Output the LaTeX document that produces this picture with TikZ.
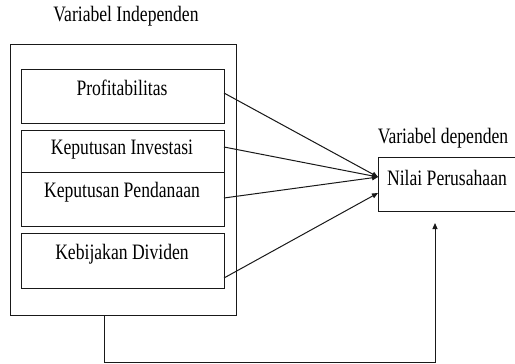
\documentclass[tikz,border=0pt]{standalone}
\usepackage{fontspec}
\setmainfont{Liberation Serif}[FakeStretch=0.8]
\usetikzlibrary{arrows.meta}
\begin{document}
\begin{tikzpicture}[x=1pt,y=-1pt,
  box/.style={draw=black!90, line width=1pt, inner sep=0pt, outer sep=0pt},
  lbl/.style={anchor=base, inner sep=0pt, font=\fontsize{22}{26}\selectfont, text=black},
  link/.style={draw=black!90, line width=1pt},
  arr/.style={link, -{Triangle[length=6pt,width=5pt]}}]
\clip (0,0) rectangle (515,364);
% outer box
\node[box, minimum width=226pt, minimum height=271pt] (outer) at (123,179.5) {};
% inner boxes
\node[box, minimum width=203pt, minimum height=54pt] (b1) at (122.5,96) {};
\node[box, minimum width=203pt, minimum height=42pt] (b2) at (122.5,151) {};
\node[box, minimum width=203pt, minimum height=54pt] (b3) at (122.5,199) {};
\node[box, minimum width=203pt, minimum height=55pt] (b4) at (122.5,260.5) {};
% dependent box
\node[box, minimum width=150pt, minimum height=54pt, anchor=north west] (nv) at (378,157) {};
% texts
\node[lbl] (t0) at (126,21) {Variabel Independen};
\node[lbl] (t1) at (122,95) {Profitabilitas};
\node[lbl] (t2) at (122,154) {Keputusan Investasi};
\node[lbl] (t3) at (122,197) {Keputusan Pendanaan};
\node[lbl] (t4) at (122,259) {Kebijakan Dividen};
\node[lbl] (t5) at (443,143) {Variabel dependen};
\node[lbl] (t6) at (447,185) {Nilai Perusahaan};
% arrows
\draw[arr] ([yshift=3pt]b1.east) -- ([yshift=7pt]nv.west);
\draw[arr] ([yshift=4pt]b2.east) -- ([yshift=7pt]nv.west);
\draw[arr] ([yshift=1pt]b3.east) -- ([yshift=7pt]nv.west);
\draw[arr] ([yshift=-17.5pt]b4.east) -- ([yshift=-9pt]nv.west);
% bottom connector
\coordinate (c1) at (104,362);
\coordinate (c2) at (435,362);
\coordinate (tip) at (435,223);
\draw[arr] (outer.south -| c1) -- (c1) -- (c2) -- (tip);
\end{tikzpicture}
\end{document}
